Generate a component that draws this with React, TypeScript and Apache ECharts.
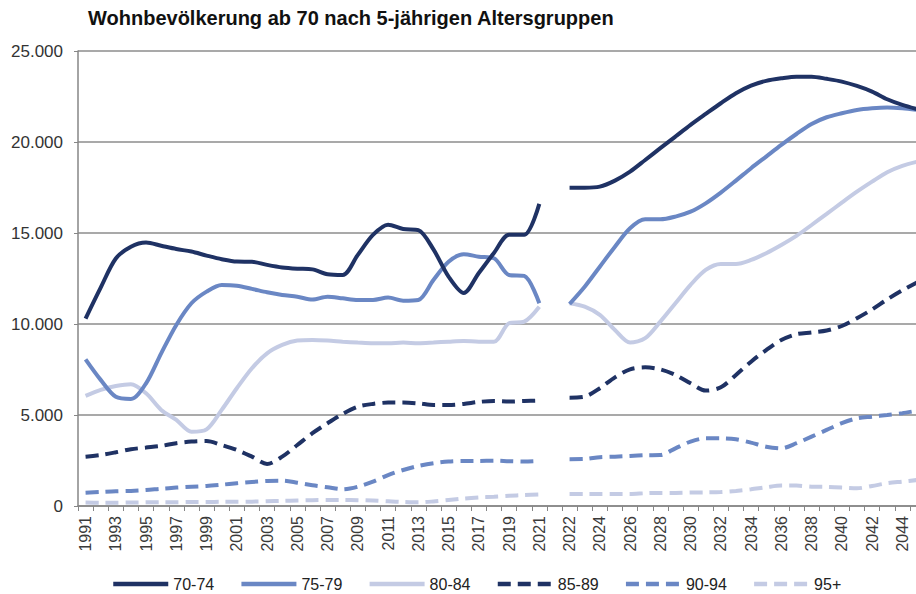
import React, { useEffect, useRef } from "react";
import * as echarts from "echarts";

const TITLE = "Wohnbevölkerung ab 70 nach 5-jährigen Altersgruppen";

const histYears = [
  "1991", "1992", "1993", "1994", "1995", "1996", "1997", "1998", "1999", "2000",
  "2001", "2002", "2003", "2004", "2005", "2006", "2007", "2008", "2009", "2010",
  "2011", "2012", "2013", "2014", "2015", "2016", "2017", "2018", "2019", "2020", "2021",
];
const gapCategory = [""];
const projYears = [
  "2022", "2023", "2024", "2025", "2026", "2027", "2028", "2029", "2030", "2031",
  "2032", "2033", "2034", "2035", "2036", "2037", "2038", "2039", "2040", "2041",
  "2042", "2043", "2044", "2045",
];

const seriesNames = ["70-74", "75-79", "80-84", "85-89", "90-94", "95+"];

const a7074Hist = [10300, 12000, 13600, 14250, 14480, 14300, 14120, 13980, 13760, 13560, 13430, 13420, 13250, 13110, 13040, 13000, 12730, 12690, 13800, 14900, 15460, 15220, 15160, 14100, 12600, 11700, 12800, 13900, 14900, 14900, 16600];
const a7074Proj = [17490, 17490, 17550, 17880, 18370, 19010, 19660, 20300, 20940, 21540, 22130, 22680, 23100, 23360, 23500, 23590, 23590, 23470, 23320, 23080, 22770, 22350, 22040, 21800];

const a7579Hist = [8060, 6930, 6000, 5880, 6740, 8390, 9950, 11140, 11780, 12140, 12100, 11930, 11740, 11590, 11500, 11340, 11500, 11410, 11320, 11320, 11450, 11280, 11320, 12420, 13420, 13830, 13700, 13610, 12690, 12640, 11140];
const a7579Proj = [11100, 12050, 13150, 14250, 15260, 15750, 15750, 15900, 16170, 16630, 17220, 17880, 18560, 19200, 19840, 20440, 20990, 21360, 21580, 21760, 21850, 21890, 21850, 21760];

const a8084Hist = [6050, 6380, 6590, 6690, 6190, 5280, 4730, 4080, 4210, 5280, 6470, 7570, 8390, 8850, 9090, 9120, 9090, 9030, 8980, 8940, 8940, 8980, 8940, 8980, 9030, 9070, 9030, 9030, 10040, 10130, 10950];
const a8084Proj = [11140, 10950, 10500, 9670, 8980, 9220, 10130, 11140, 12150, 12970, 13300, 13300, 13520, 13890, 14340, 14840, 15440, 16050, 16670, 17270, 17820, 18340, 18690, 18920];

const a8589Hist = [2710, 2800, 2950, 3120, 3210, 3300, 3450, 3540, 3570, 3350, 3080, 2710, 2310, 2710, 3350, 4000, 4550, 5060, 5460, 5610, 5680, 5680, 5640, 5550, 5550, 5610, 5720, 5770, 5740, 5770, 5790];
const a8589Proj = [5950, 6010, 6470, 7070, 7510, 7620, 7510, 7200, 6740, 6340, 6520, 7200, 7930, 8570, 9120, 9440, 9530, 9640, 9890, 10320, 10800, 11350, 11850, 12300];

const a9094Hist = [730, 770, 810, 830, 880, 950, 1010, 1060, 1100, 1170, 1250, 1320, 1380, 1390, 1280, 1140, 1030, 920, 1060, 1340, 1700, 1980, 2200, 2350, 2440, 2470, 2470, 2490, 2460, 2440, 2470];
const a9094Proj = [2570, 2580, 2680, 2710, 2750, 2790, 2800, 3170, 3540, 3720, 3720, 3670, 3480, 3260, 3170, 3450, 3810, 4180, 4550, 4820, 4910, 5000, 5100, 5240];

const a95Hist = [190, 180, 180, 190, 200, 210, 210, 220, 220, 230, 230, 240, 260, 280, 300, 320, 330, 330, 320, 300, 260, 220, 200, 250, 330, 410, 470, 510, 560, 600, 630];
const a95Proj = [660, 660, 660, 660, 660, 700, 720, 720, 740, 750, 770, 830, 920, 1030, 1120, 1120, 1060, 1050, 1010, 970, 1100, 1250, 1340, 1430];

const yTicks = [0, 5000, 10000, 15000, 20000, 25000];

const DARK = "#1F3264";
const MID = "#6A87C4";
const LIGHT = "#C4CBE4";
const FONT = "'Liberation Sans', Arial, sans-serif";

function fmt(v: number): string {
  return String(v).replace(/\B(?=(\d{3})+(?!\d))/g, ".");
}

export default function App() {
  const ref = useRef<HTMLDivElement>(null);
  useEffect(() => {
    if (!ref.current) return;
    const chart = echarts.init(ref.current, undefined, { renderer: "svg" });
    const categories = [...histYears, ...gapCategory, ...projYears];
    const join = (h: number[], p: number[]) => [...h, null, ...p];
    const dataSets = [
      join(a7074Hist, a7074Proj),
      join(a7579Hist, a7579Proj),
      join(a8084Hist, a8084Proj),
      join(a8589Hist, a8589Proj),
      join(a9094Hist, a9094Proj),
      join(a95Hist, a95Proj),
    ];
    const colors = [DARK, MID, LIGHT, DARK, MID, LIGHT];
    const dashed = [false, false, false, true, true, true];
    chart.setOption({
      animation: false,
      backgroundColor: "#ffffff",
      title: {
        text: TITLE,
        left: 88,
        top: 8,
        padding: 0,
        textStyle: { fontFamily: FONT, fontSize: 20, fontWeight: "bold", color: "#111111" },
      },
      legend: {
        left: 111,
        top: 576,
        padding: 0,
        itemWidth: 55,
        itemHeight: 14,
        itemGap: 25,
        data: seriesNames,
        itemStyle: { opacity: 0 },
        lineStyle: { width: 4.5 },
        textStyle: { fontFamily: FONT, fontSize: 16, color: "#222222" },
      },
      grid: { left: 78, top: 51, width: 847, height: 455, outerBoundsMode: "none", containLabel: false },
      xAxis: {
        type: "category",
        data: categories,
        boundaryGap: true,
        axisLine: { lineStyle: { color: "#868686", width: 1.5 } },
        axisTick: { show: true, interval: 0, length: 5, lineStyle: { color: "#868686" } },
        axisLabel: {
          interval: 1,
          rotate: 90,
          margin: 10,
          fontFamily: FONT,
          fontSize: 16,
          color: "#3a3a3a",
        },
        splitLine: { show: false },
      },
      yAxis: {
        type: "value",
        min: yTicks[0],
        max: yTicks[yTicks.length - 1],
        interval: 5000,
        axisLine: { show: true, lineStyle: { color: "#868686", width: 1.5 } },
        axisTick: { show: true, length: 4, lineStyle: { color: "#868686" } },
        axisLabel: {
          margin: 15,
          fontFamily: FONT,
          fontSize: 17,
          color: "#333333",
          formatter: (v: number) => fmt(v),
        },
        splitLine: { show: true, lineStyle: { color: "#8c8c8c", width: 1.5 } },
      },
      series: seriesNames.map((name, i) => ({
        name,
        type: "line",
        data: dataSets[i],
        symbol: "none",
        smooth: 0.3,
        connectNulls: false,
        z: 10 - i,
        lineStyle: {
          color: colors[i],
          width: 4,
          type: dashed[i] ? [13, 7] : "solid",
        },
        itemStyle: { color: colors[i] },
      })),
    });
    return () => chart.dispose();
  }, []);
  return (
    <div
      ref={ref}
      style={{ position: "absolute", left: 0, top: 0, width: 916, height: 594 }}
    />
  );
}
